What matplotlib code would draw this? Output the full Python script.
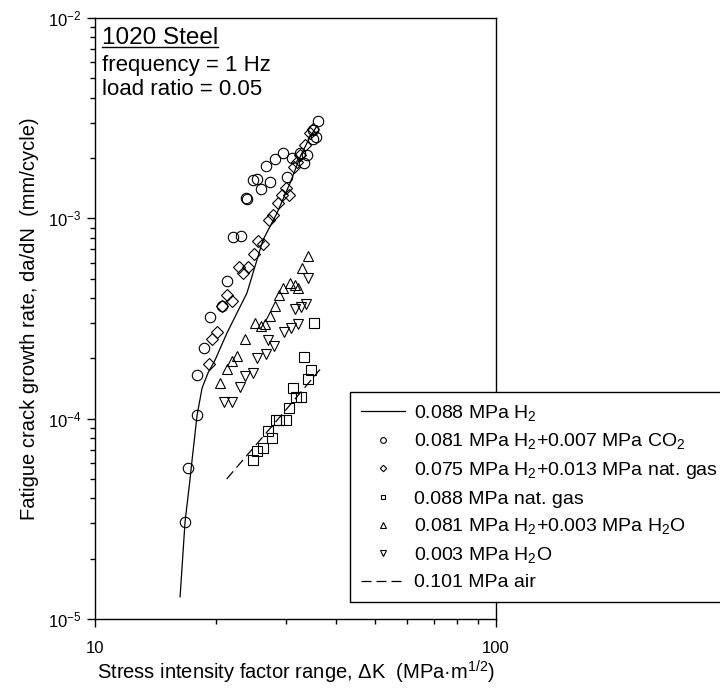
import numpy as np
import matplotlib
matplotlib.use("Agg")
import matplotlib.pyplot as plt
from matplotlib.ticker import LogLocator, NullFormatter, FuncFormatter
from matplotlib.lines import Line2D

plt.rcParams["font.family"] = ["Liberation Sans", "DejaVu Sans"]
plt.rcParams["mathtext.fontset"] = "custom"
plt.rcParams["mathtext.rm"] = "Liberation Sans"
plt.rcParams["mathtext.it"] = "Liberation Sans:italic"
plt.rcParams["mathtext.default"] = "regular"
plt.rcParams["axes.unicode_minus"] = False

# 0.088 MPa H2 (solid line)
h2_dk = [16.3, 16.77, 17.25, 17.46, 17.97, 18.49, 19.13, 19.92, 21.34, 23.93,
         26.24, 28.44, 30.65, 32.45, 34.37, 35.8]
h2_rate = [1.29e-5, 3.05e-5, 4.94e-5, 6.21e-5, 1.04e-4, 1.42e-4, 1.69e-4, 1.96e-4,
           2.68e-4, 4.24e-4, 7.8e-4, 1.063e-3, 1.50e-3, 2.02e-3, 2.55e-3, 2.9e-3]

# 0.081 MPa H2 + 0.007 MPa CO2 (circles)
co2_dk = [16.77, 17.09, 17.93, 17.93, 18.72, 19.35, 20.70, 21.30, 22.13, 23.10,
          23.80, 23.90, 24.82, 25.39, 25.89, 27.32, 26.65, 28.12, 29.49, 30.94,
          30.17, 32.45, 33.84, 33.21, 34.91, 35.57, 35.03, 36.05]
co2_rate = [3.05e-5, 5.67e-5, 1.04e-4, 1.65e-4, 2.26e-4, 3.21e-4, 3.65e-4, 4.86e-4,
            8.09e-4, 8.16e-4, 1.262e-3, 1.25e-3, 1.553e-3, 1.566e-3, 1.396e-3,
            1.523e-3, 1.824e-3, 1.97e-3, 2.11e-3, 1.99e-3, 1.613e-3, 2.13e-3,
            2.07e-3, 1.895e-3, 2.48e-3, 2.54e-3, 2.76e-3, 3.06e-3]

# 0.075 MPa H2 + 0.013 MPa nat. gas (diamonds)
ng_mix_dk = [19.19, 19.63, 20.11, 20.77, 21.30, 21.98, 22.80, 23.43, 24.12, 24.88,
             25.54, 26.29, 27.12, 27.84, 28.57, 29.27, 29.95, 30.55, 31.36, 31.84,
             32.40, 33.40, 34.37, 35.03]
ng_mix_rate = [1.884e-4, 2.49e-4, 2.716e-4, 3.65e-4, 4.14e-4, 3.87e-4, 5.73e-4,
               5.36e-4, 5.71e-4, 6.66e-4, 7.74e-4, 7.48e-4, 9.80e-4, 1.045e-3,
               1.199e-3, 1.311e-3, 1.42e-3, 1.307e-3, 1.797e-3, 1.90e-3, 2.06e-3,
               2.32e-3, 2.68e-3, 2.78e-3]

# 0.088 MPa nat. gas (squares)
ng_dk = [24.74, 25.35, 26.19, 26.93, 27.60, 28.28, 28.81, 29.91, 30.52, 31.77,
         32.58, 31.23, 33.92, 34.57, 33.21, 35.21]
ng_rate = [6.23e-5, 6.88e-5, 7.16e-5, 8.64e-5, 8.02e-5, 9.84e-5, 9.80e-5, 9.84e-5,
           1.125e-4, 1.286e-4, 1.286e-4, 1.425e-4, 1.581e-4, 1.754e-4, 2.03e-4, 3.01e-4]

# 0.081 MPa H2 + 0.003 MPa H2O (up triangles)
h2o_mix_dk = [20.46, 21.30, 21.98, 22.60, 23.71, 25.06, 25.97, 26.59, 27.32, 28.12,
              28.81, 29.49, 30.69, 31.54, 32.14, 32.78, 33.92]
h2o_mix_rate = [1.506e-4, 1.765e-4, 1.946e-4, 2.065e-4, 2.506e-4, 3.0e-4, 2.90e-4,
                2.96e-4, 3.25e-4, 3.67e-4, 4.12e-4, 4.51e-4, 4.75e-4, 4.65e-4,
                4.47e-4, 5.62e-4, 6.48e-4]

# 0.003 MPa H2O (down triangles)
h2o_dk = [21.0, 22.02, 22.99, 23.71, 24.82, 25.30, 26.62, 27.05, 27.95, 29.55,
          30.87, 32.03, 31.54, 32.58, 33.53, 33.92]
h2o_rate = [1.206e-4, 1.206e-4, 1.446e-4, 1.636e-4, 1.684e-4, 2.007e-4, 2.097e-4,
            2.46e-4, 2.30e-4, 2.70e-4, 2.82e-4, 2.97e-4, 3.51e-4, 3.62e-4,
            3.75e-4, 5.02e-4]

# 0.101 MPa air (dashed line)
air_dk = [21.3, 28.3, 36.4]
air_rate = [5.0e-5, 9.7e-5, 1.76e-4]

fig = plt.figure(figsize=(7.2, 6.92), dpi=100)
ax = fig.add_axes([95 / 720, 1 - 619 / 692, 401 / 720, 601 / 692])

mk = dict(linestyle="none", markerfacecolor="none", markeredgecolor="black",
          markeredgewidth=0.8)
ax.plot(h2_dk, h2_rate, color="black", lw=0.9, label="0.088 MPa H$_2$")
ax.plot(co2_dk, co2_rate, marker="o", markersize=7.5, **mk,
        label="0.081 MPa H$_2$+0.007 MPa CO$_2$")
ax.plot(ng_mix_dk, ng_mix_rate, marker="D", markersize=6, **mk,
        label="0.075 MPa H$_2$+0.013 MPa nat. gas")
ax.plot(ng_dk, ng_rate, marker="s", markersize=6.5, **mk,
        label="0.088 MPa nat. gas")
ax.plot(h2o_mix_dk, h2o_mix_rate, marker="^", markersize=7.5, **mk,
        label="0.081 MPa H$_2$+0.003 MPa H$_2$O")
ax.plot(h2o_dk, h2o_rate, marker="v", markersize=7.5, **mk,
        label="0.003 MPa H$_2$O")
ax.plot(air_dk, air_rate, color="black", lw=0.9, linestyle=(0, (8, 4)),
        label="0.101 MPa air")

ax.set_xscale("log")
ax.set_yscale("log")
ax.set_xlim(10, 100)
ax.set_ylim(1e-5, 1e-2)

ax.xaxis.set_major_formatter(FuncFormatter(lambda v, p: f"{v:g}"))
ax.xaxis.set_minor_formatter(NullFormatter())
ax.yaxis.set_minor_formatter(NullFormatter())
ax.yaxis.set_minor_locator(LogLocator(base=10, subs=np.arange(2, 10)))
ax.tick_params(which="both", direction="out", top=False, right=False,
               labelsize=12, width=1)
ax.tick_params(which="major", length=6)
ax.tick_params(which="minor", length=3.5)
ax.tick_params(axis="x", which="major", pad=10)
ax.tick_params(axis="y", which="major", pad=4)
for s in ax.spines.values():
    s.set_linewidth(1)

ax.set_xlabel("Stress intensity factor range, ΔK  (MPa·m$^{1/2}$)",
              fontsize=14.5, labelpad=2)
ax.set_ylabel("Fatigue crack growth rate, da/dN  (mm/cycle)",
              fontsize=14.5, labelpad=6)

# annotation block
t1 = ax.text(0.0175, 0.9567, "1020 Steel", transform=ax.transAxes,
             fontsize=17.5, va="baseline", ha="left")
ax.text(0.0175, 0.9123, "frequency = 1 Hz", transform=ax.transAxes,
        fontsize=16, va="baseline", ha="left")
ax.text(0.0175, 0.8719, "load ratio = 0.05", transform=ax.transAxes,
        fontsize=16, va="baseline", ha="left")

leg = ax.legend(loc="upper left", bbox_to_anchor=(0.636, 0.3777),
                fontsize=14, frameon=True, fancybox=False, edgecolor="black",
                framealpha=1, numpoints=1, markerscale=0.55,
                handlelength=2.3, handletextpad=0.45, borderpad=0.55,
                labelspacing=0.45, borderaxespad=0)
leg.get_frame().set_linewidth(1)

# underline for the title
fig.canvas.draw()
bb = t1.get_window_extent().transformed(fig.transFigure.inverted())
fig.add_artist(Line2D([bb.x0, bb.x1], [bb.y0 + 0.003, bb.y0 + 0.003],
                      transform=fig.transFigure, color="black", lw=1))

plt.savefig("out.png", dpi=100)
